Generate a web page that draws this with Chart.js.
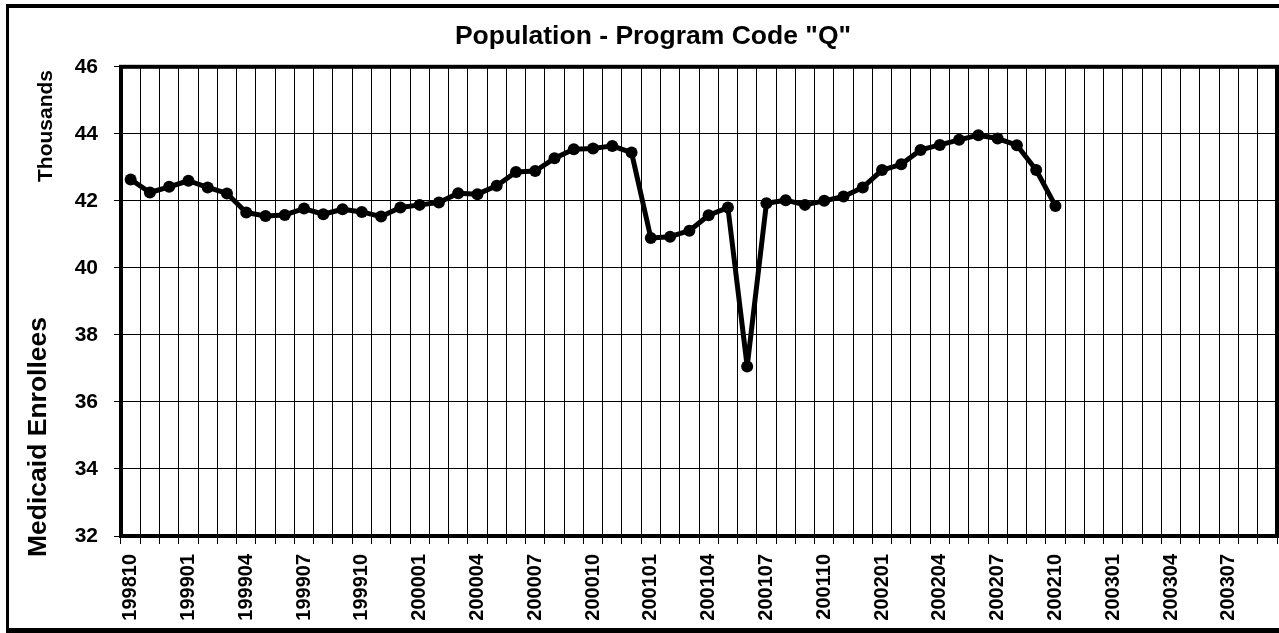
<!DOCTYPE html>
<html>
<head>
<meta charset="utf-8">
<script src="https://cdn.jsdelivr.net/npm/chart.js@4"></script>
<style>
    html, body { margin: 0; padding: 0; background: #fff; overflow: hidden; }
    #frame {
        position: absolute; left: 6px; top: 4px; width: 1300px; height: 620px;
        border-left: 3px solid #000; border-top: 4px solid #000; border-bottom: 5px solid #000;
    }
    #chart { position: absolute; left: 0; top: 0; }
</style>
</head>
<body>
<div id="frame"></div>
<canvas id="chart" width="1306" height="633"></canvas>
<script>
// --- data ---
const months = [
    '199810', '199811', '199812', '199901', '199902', '199903', '199904', '199905', '199906', '199907',
    '199908', '199909', '199910', '199911', '199912', '200001', '200002', '200003', '200004', '200005',
    '200006', '200007', '200008', '200009', '200010', '200011', '200012', '200101', '200102', '200103',
    '200104', '200105', '200106', '200107', '200108', '200109', '200110', '200111', '200112', '200201',
    '200202', '200203', '200204', '200205', '200206', '200207', '200208', '200209', '200210', '200211',
    '200212', '200301', '200302', '200303', '200304', '200305', '200306', '200307', '200308', '200309'
];
// enrollees, thousands
const enrollees = [
    42.64, 42.25, 42.42, 42.60, 42.40, 42.22, 41.65, 41.55, 41.58, 41.77,
    41.60, 41.75, 41.67, 41.53, 41.80, 41.88, 41.95, 42.23, 42.20, 42.45,
    42.86, 42.89, 43.27, 43.54, 43.56, 43.64, 43.44, 40.89, 40.93, 41.11,
    41.57, 41.80, 37.06, 41.93, 42.02, 41.88, 42.00, 42.13, 42.40, 42.92,
    43.09, 43.52, 43.67, 43.82, 43.96, 43.86, 43.66, 42.92, 41.85
];
const yTicks = [32, 34, 36, 38, 40, 42, 44, 46];

const FONT = "'Liberation Sans', Arial, sans-serif";

// thick box round the plot area
const plotBorder = {
    id: 'plotBorder',
    beforeDatasetsDraw(chart) {
        const { ctx, chartArea: a } = chart;
        ctx.save();
        ctx.strokeStyle = '#000';
        ctx.lineWidth = 4;
        ctx.strokeRect(a.left, a.top, a.right - a.left, a.bottom - a.top);
        ctx.restore();
    }
};

// the two rotated captions on the left
const sideLabels = {
    id: 'sideLabels',
    afterDraw(chart) {
        const ctx = chart.ctx;
        const put = (text, size, x, y) => {
            ctx.save();
            ctx.translate(x, y);
            ctx.rotate(-Math.PI / 2);
            ctx.font = 'bold ' + size + 'px ' + FONT;
            ctx.fillStyle = '#000';
            ctx.textAlign = 'center';
            ctx.textBaseline = 'middle';
            ctx.fillText(text, 0, 0);
            ctx.restore();
        };
        put('Thousands', 21, 46, 126);
        put('Medicaid Enrollees', 26.5, 39, 437);
    }
};

new Chart(document.getElementById('chart'), {
    type: 'line',
    data: {
        labels: months,
        datasets: [{
            data: enrollees,
            borderColor: '#000',
            backgroundColor: '#000',
            borderWidth: 5,
            borderJoinStyle: 'round',
            tension: 0,
            pointRadius: 6,
            pointBorderWidth: 0,
            pointBackgroundColor: '#000'
        }]
    },
    options: {
        responsive: false,
        animation: false,
        layout: { padding: { left: 29, right: 29, top: 0, bottom: 0 } },
        plugins: {
            legend: { display: false },
            tooltip: { enabled: false },
            title: {
                display: true,
                text: 'Population - Program Code "Q"',
                color: '#000',
                font: { family: FONT, size: 26.5, weight: 'bold', lineHeight: 1.2 },
                padding: { top: 21, bottom: 14 }
            }
        },
        scales: {
            x: {
                type: 'category',
                offset: true,
                afterFit(scale) { scale.height = 97; },
                grid: { offset: true, color: '#000', lineWidth: 1, tickLength: 8, tickColor: '#000' },
                border: { display: false },
                ticks: {
                    autoSkip: false,
                    maxRotation: 90,
                    minRotation: 90,
                    padding: 10,
                    color: '#000',
                    font: { family: FONT, size: 20, weight: 'bold' },
                    callback(value, index) {
                        return index % 3 === 0 ? months[index] : '';
                    }
                }
            },
            y: {
                min: yTicks[0],
                max: yTicks[yTicks.length - 1],
                afterFit(scale) { scale.width = 92; },
                afterBuildTicks(scale) { scale.ticks = yTicks.map(v => ({ value: v })); },
                grid: { color: '#000', lineWidth: 1, tickLength: 7, tickColor: '#000' },
                border: { display: false },
                ticks: {
                    padding: 16,
                    color: '#000',
                    font: { family: FONT, size: 21, weight: 'bold' }
                }
            }
        }
    },
    plugins: [plotBorder, sideLabels]
});
</script>
</body>
</html>
